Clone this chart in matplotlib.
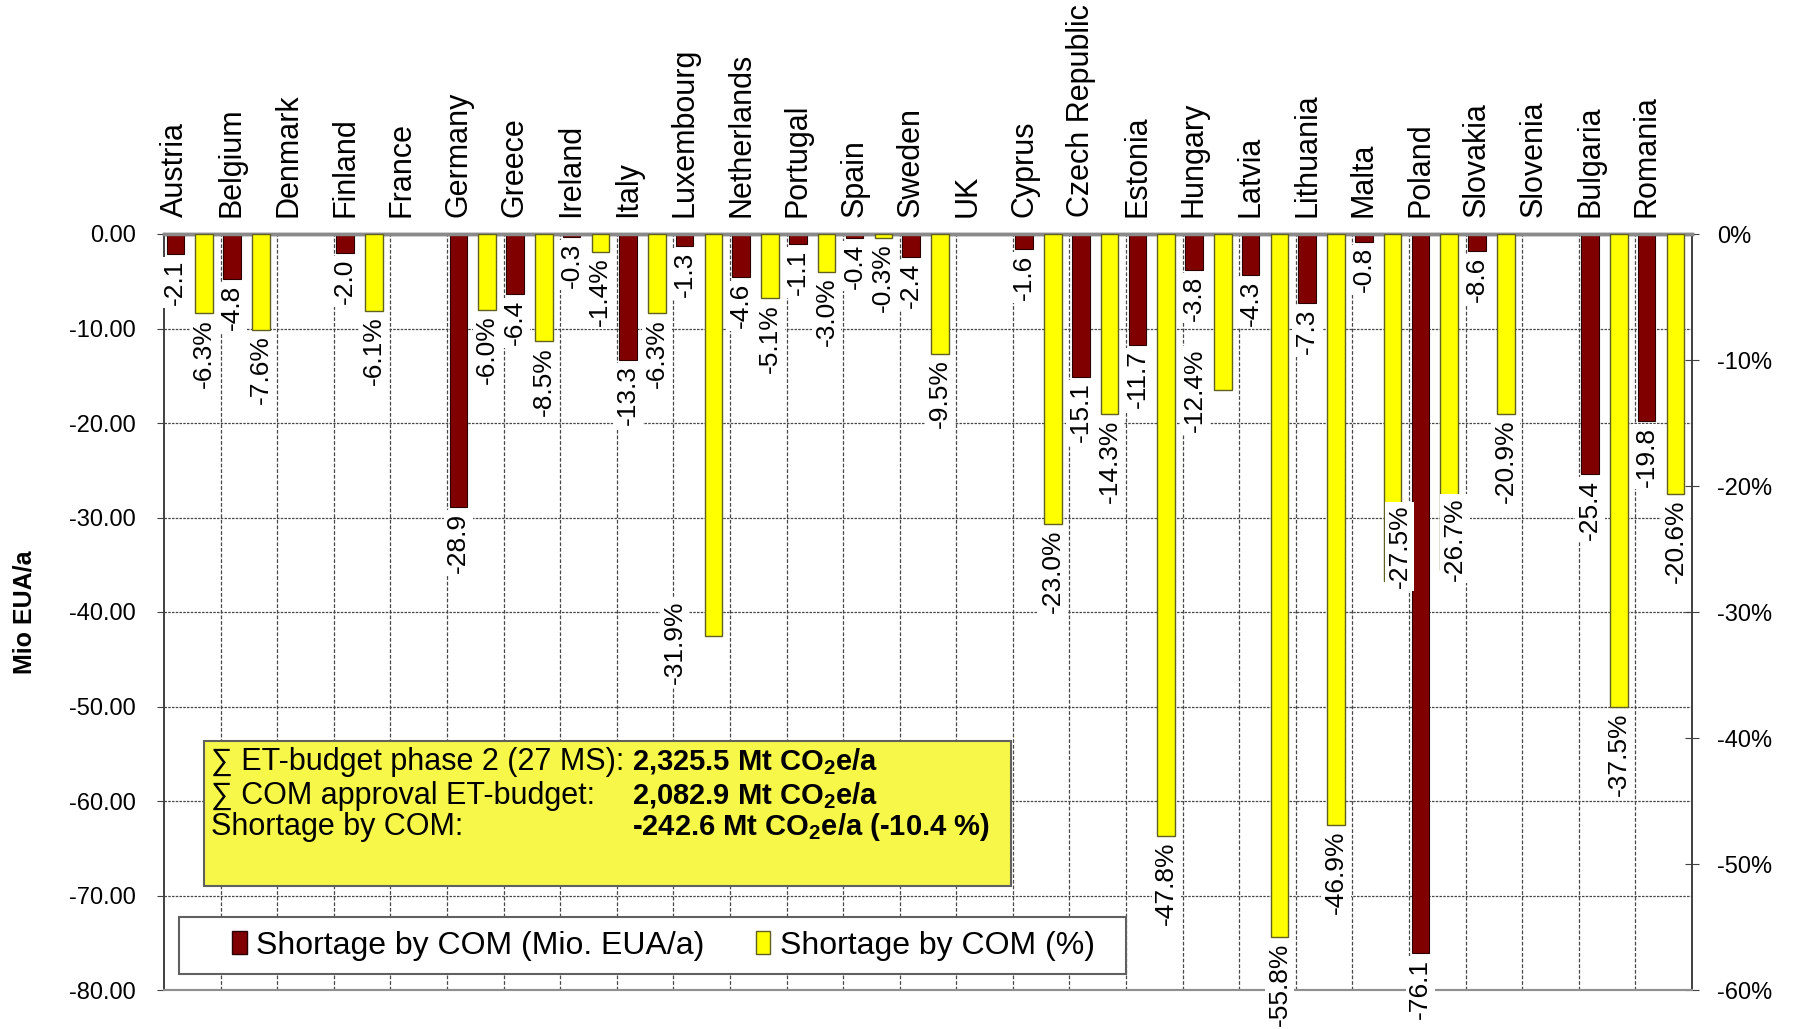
import numpy as np
import matplotlib
matplotlib.use("Agg")
import matplotlib.pyplot as plt
from matplotlib.patches import Patch, Rectangle

plt.rcParams['font.family'] = ['Liberation Sans', 'DejaVu Sans']
plt.rcParams['axes.unicode_minus'] = False
plt.rcParams['mathtext.fontset'] = 'custom'
plt.rcParams['mathtext.rm'] = 'Liberation Sans'
plt.rcParams['mathtext.bf'] = 'Liberation Sans:bold'

# ---------------- data ----------------
countries = ["Austria", "Belgium", "Denmark", "Finland", "France", "Germany", "Greece",
             "Ireland", "Italy", "Luxembourg", "Netherlands", "Portugal", "Spain", "Sweden",
             "UK", "Cyprus", "Czech Republic", "Estonia", "Hungary", "Latvia", "Lithuania",
             "Malta", "Poland", "Slovakia", "Slovenia", "Bulgaria", "Romania"]

shortage_mio = [-2.1, -4.8, np.nan, -2.0, np.nan, -28.9, -6.4, -0.3, -13.3, -1.3, -4.6,
                -1.1, -0.4, -2.4, np.nan, -1.6, -15.1, -11.7, -3.8, -4.3, -7.3, -0.8,
                -76.1, -1.8, np.nan, -25.4, -19.8]
shortage_mio_labels = ["-2.1", "-4.8", "", "-2.0", "", "-28.9", "-6.4", "-0.3", "-13.3",
                       "-1.3", "-4.6", "-1.1", "-0.4", "-2.4", "", "-1.6", "-15.1", "-11.7",
                       "-3.8", "-4.3", "-7.3", "-0.8", "-76.1", "-8.6", "", "-25.4", "-19.8"]

shortage_pct = [-6.3, -7.6, np.nan, -6.1, np.nan, -6.0, -8.5, -1.4, -6.3, -31.9, -5.1,
                -3.0, -0.3, -9.5, np.nan, -23.0, -14.3, -47.8, -12.4, -55.8, -46.9, -27.5,
                -26.7, -14.3, np.nan, -37.5, -20.6]
shortage_pct_labels = ["-6.3%", "-7.6%", "", "-6.1%", "", "-6.0%", "-8.5%", "-1.4%", "-6.3%",
                       "-31.9%", "-5.1%", "-3.0%", "-0.3%", "-9.5%", "", "-23.0%", "-14.3%",
                       "-47.8%", "-12.4%", "-55.8%", "-46.9%", "-27.5%", "-26.7%", "-20.9%",
                       "", "-37.5%", "-20.6%"]

left_ticks = [0, -10, -20, -30, -40, -50, -60, -70, -80]
right_ticks = [0, -10, -20, -30, -40, -50, -60]

legend_labels = ["Shortage by COM (Mio. EUA/a)", "Shortage by COM (%)"]
box_lines = [("\u2211 ET-budget phase 2 (27 MS):", "2,325.5 Mt CO$_\\mathbf{2}$e/a"),
             ("\u2211 COM approval ET-budget:", "2,082.9 Mt CO$_\\mathbf{2}$e/a"),
             ("Shortage by COM:", "-242.6 Mt CO$_\\mathbf{2}$e/a (-10.4 %)")]

# ---------------- style / layout ----------------
MAROON = "#800000"
YELLOW = "#FFFF00"
GRID = "#484848"
W = 0.31
OFF_M = 0.20
OFF_Y = 0.71
LAB_FS = 19
# special label placements for the % series: index -> (dx, y-centre in %)
pct_label_override = {9: (-0.69, -32.4), 18: (-0.49, -12.4), 21: (0.12, -24.8), 22: (0.1, -24.2)}

fig = plt.figure(figsize=(17.93, 10.29), dpi=100)
ax = fig.add_axes([164/1793, 1-990/1029, 1528/1793, 756/1029])
ax2 = ax.twinx()

n = len(countries)
x = np.arange(n)

ax.set_xlim(0, n)
ax.set_ylim(-80, 0)
ax2.set_ylim(-60, 0)

ax.bar(x + OFF_M, shortage_mio, width=W, color=MAROON, edgecolor="#2a0000", linewidth=0.8, zorder=3)
ax2.bar(x + OFF_Y, shortage_pct, width=W, color=YELLOW, edgecolor="#606020", linewidth=1.0, zorder=3)

# axes, ticks, grid
ax.set_yticks(left_ticks)
ax.set_yticklabels([f"{v:.2f}" for v in left_ticks])
ax.set_xticks(x + OFF_M)
ax.set_xticklabels(countries, rotation=90, fontsize=22)
ax.set_xticks(np.arange(1, n), minor=True)
ax.xaxis.tick_top()
ax.tick_params(axis='x', which='both', length=0, pad=12)
ax.grid(axis='x', which='minor', color=GRID, linestyle=(0, (3, 1.5)), linewidth=0.9, zorder=1)
ax.grid(axis='y', which='major', color=GRID, linestyle=(0, (2, 1)), linewidth=0.9, zorder=1)
ax.tick_params(axis='y', labelsize=17, direction='out', length=5, pad=15, color="#404040")

ax2.set_yticks(right_ticks)
ax2.set_yticklabels([f"{v}%" for v in right_ticks])
ax2.tick_params(axis='y', labelsize=17, direction='inout', length=10, pad=13, color="#404040")

for a in (ax, ax2):
    a.spines['top'].set_color("#8a8a8a")
    a.spines['top'].set_linewidth(2.5)
    a.spines['bottom'].set_color("#909090")
    a.spines['bottom'].set_linewidth(1.5)
    a.spines['left'].set_color("#404040")
    a.spines['right'].set_color("#404040")
    a.spines['left'].set_linewidth(1.2)
    a.spines['right'].set_linewidth(1.2)

fig.text(25/1793, 1-612/1029, "Mio EUA/a", rotation=90, ha='center', va='center',
         fontsize=18, fontweight='bold')

bbox_w = dict(boxstyle="square,pad=0.1", facecolor="white", edgecolor="none")

# data labels (maroon series)
for i in range(n):
    v = shortage_mio[i]
    if np.isnan(v):
        continue
    ax2.text(i + OFF_M, v - 0.6, shortage_mio_labels[i], transform=ax.transData,
             rotation=90, ha='center', va='top', fontsize=LAB_FS, bbox=bbox_w, zorder=5)

# data labels (yellow series)
for i in range(n):
    v = shortage_pct[i]
    if np.isnan(v):
        continue
    if i in pct_label_override:
        dx, yc = pct_label_override[i]
        ax2.text(i + OFF_Y + dx, yc, shortage_pct_labels[i], rotation=90, ha='center',
                 va='center', fontsize=LAB_FS, bbox=bbox_w, zorder=6)
    else:
        ax2.text(i + OFF_Y, v - 0.45, shortage_pct_labels[i], rotation=90, ha='center',
                 va='top', fontsize=LAB_FS, bbox=bbox_w, zorder=6)

# info box
rect = Rectangle((0.0262, 0.1376), 0.528, 0.192, transform=ax.transAxes,
                 facecolor="#F7F74A", edgecolor="#606060", linewidth=1.5, zorder=8)
ax2.add_patch(rect)
ys = [0.302, 0.257, 0.216]
for (lt, bt), yy in zip(box_lines, ys):
    ax2.text(0.031, yy, lt, transform=ax.transAxes, fontsize=22, ha='left', va='center', zorder=9)
    ax2.text(0.306, yy, bt, transform=ax.transAxes, fontsize=21, fontweight='bold',
             ha='left', va='center', zorder=9)

# legend (frame drawn separately to match the wide box)
frame = Rectangle((0.0101, 0.0212), 0.6197, 0.0754, transform=ax.transAxes,
                  facecolor="white", edgecolor="#606060", linewidth=1.5, zorder=9)
ax2.add_patch(frame)
handles = [Patch(facecolor=MAROON, edgecolor="#2a0000"), Patch(facecolor=YELLOW, edgecolor="#606020")]
leg = ax2.legend(handles, legend_labels, ncol=2, loc='center', bbox_to_anchor=(0.327, 0.0586),
                 fontsize=23, frameon=False,
                 handlelength=0.45, handleheight=0.75, handletextpad=0.3, columnspacing=1.6,
                 borderpad=0.2)
leg.set_zorder(10)

fig.savefig("out.png", dpi=100, facecolor="white")
